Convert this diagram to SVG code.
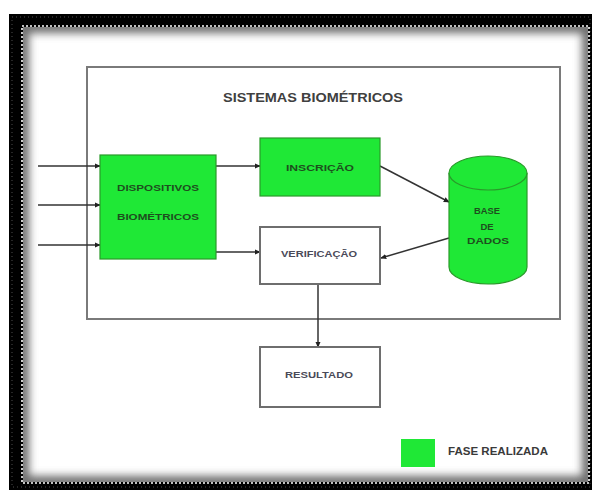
<svg xmlns="http://www.w3.org/2000/svg" width="592" height="490" viewBox="0 0 592 490">
  <style>
    .lbl { font-family: "Liberation Sans", Arial, sans-serif; text-anchor: middle; font-weight: bold; }
    .green { fill: #1fe836; stroke: #2a9a2a; stroke-width: 1.2; }
    .white { fill: #ffffff; stroke: #6e6e6e; stroke-width: 2; }
    .gtxt { fill: #1e4e1e; font-size: 9.5px; }
    .wtxt { fill: #4a4a58; font-size: 9.5px; }
    .conn { stroke: #333333; stroke-width: 1.5; fill: none; marker-end: url(#arrow); }
  </style>
  <defs>
    <marker id="arrow" viewBox="0 0 8 8" refX="7" refY="4" markerWidth="6" markerHeight="6" orient="auto" markerUnits="userSpaceOnUse">
      <path d="M0,0.5 L8,4 L0,7.5 Z" fill="#222"/>
    </marker>
    <clipPath id="inner">
      <rect x="23" y="27" width="565" height="455"/>
    </clipPath>
    <filter id="soft" x="-10%" y="-10%" width="120%" height="120%">
      <feGaussianBlur stdDeviation="4"/>
    </filter>
  </defs>

  <!-- picture frame -->
  <g id="frame">
    <rect x="9" y="14" width="583" height="476" fill="#000"/>
    <rect x="23" y="27" width="565" height="455" fill="#fff"/>
    <g clip-path="url(#inner)">
      <rect x="23" y="27" width="565" height="455" fill="none" stroke="#6a6a6a" stroke-width="12" filter="url(#soft)"/>
    </g>
    <rect x="22" y="26" width="567" height="457" fill="none" stroke="#fff" stroke-width="1.6" stroke-dasharray="2 2"/>
    <rect x="12" y="17" width="578" height="470" fill="none" stroke="#fff" stroke-width="0.6" stroke-dasharray="1 3" opacity="0.5"/>
  </g>

  <!-- system boundary -->
  <g id="sistema">
    <rect x="87" y="67" width="473" height="252" fill="none" stroke="#7a7a7a" stroke-width="2"/>
    <text class="lbl" x="313" y="102" font-size="12.5" fill="#404040" textLength="180" lengthAdjust="spacingAndGlyphs">SISTEMAS BIOMÉTRICOS</text>
  </g>

  <!-- connectors -->
  <g id="connectors">
    <line class="conn" x1="38" y1="166" x2="100" y2="166"/>
    <line class="conn" x1="38" y1="205" x2="100" y2="205"/>
    <line class="conn" x1="38" y1="245" x2="100" y2="245"/>
    <line class="conn" x1="216" y1="166" x2="260" y2="166"/>
    <line class="conn" x1="216" y1="252" x2="260" y2="252"/>
    <line class="conn" x1="380" y1="166" x2="449" y2="202"/>
    <line class="conn" x1="449" y1="238" x2="381" y2="258"/>
    <line class="conn" x1="318" y1="284" x2="318" y2="347"/>
  </g>

  <g id="dispositivos">
    <rect class="green" x="100" y="155" width="116" height="104"/>
    <text class="lbl gtxt" x="158" y="191" textLength="82" lengthAdjust="spacingAndGlyphs">DISPOSITIVOS</text>
    <text class="lbl gtxt" x="158" y="220" textLength="82" lengthAdjust="spacingAndGlyphs">BIOMÉTRICOS</text>
  </g>

  <g id="inscricao">
    <rect class="green" x="260" y="138" width="120" height="58"/>
    <text class="lbl gtxt" x="320" y="171" textLength="68" lengthAdjust="spacingAndGlyphs">INSCRIÇÃO</text>
  </g>

  <g id="verificacao">
    <rect class="white" x="260" y="227" width="120" height="57"/>
    <text class="lbl wtxt" x="319" y="257" textLength="76" lengthAdjust="spacingAndGlyphs">VERIFICAÇÃO</text>
  </g>

  <g id="base-dados">
    <path class="green" d="M449,173 L449,267 A39,17 0 0 0 527,267 L527,173"/>
    <ellipse class="green" cx="488" cy="173" rx="39" ry="17"/>
    <text class="lbl gtxt" x="487" y="214" textLength="26" lengthAdjust="spacingAndGlyphs">BASE</text>
    <text class="lbl gtxt" x="487" y="230">DE</text>
    <text class="lbl gtxt" x="488" y="244" textLength="42" lengthAdjust="spacingAndGlyphs">DADOS</text>
  </g>

  <g id="resultado">
    <rect class="white" x="260" y="347" width="120" height="60"/>
    <text class="lbl wtxt" x="319" y="378" textLength="68" lengthAdjust="spacingAndGlyphs">RESULTADO</text>
  </g>

  <g id="legenda">
    <rect x="401" y="439" width="34" height="28" fill="#1fe836"/>
    <text x="448" y="455" font-family="Liberation Sans, Arial, sans-serif" font-weight="bold" font-size="10" fill="#3a3a3a" textLength="100" lengthAdjust="spacingAndGlyphs">FASE REALIZADA</text>
  </g>
</svg>
